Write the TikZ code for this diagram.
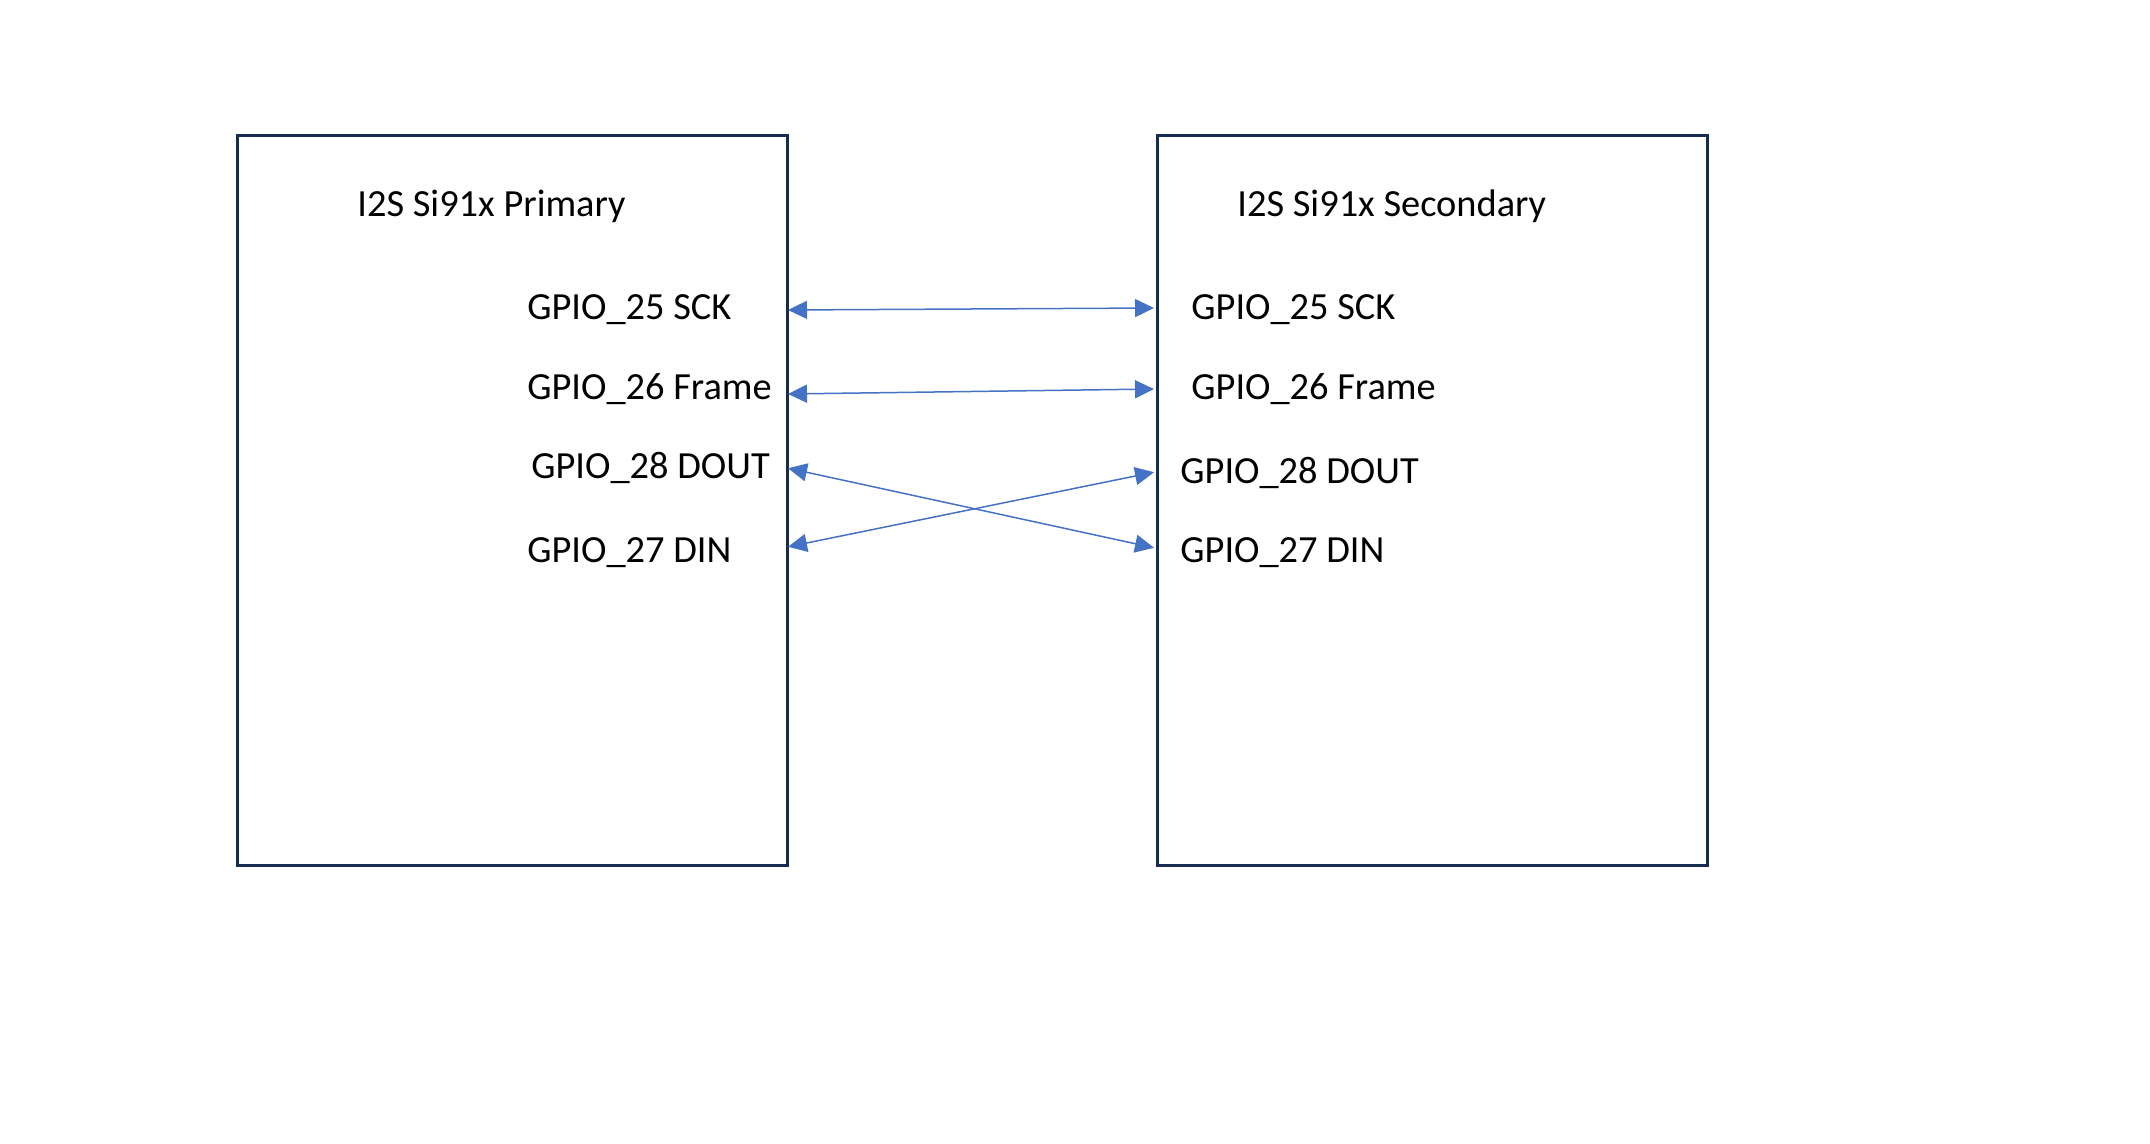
\documentclass[tikz,border=0pt]{standalone}
\usepackage{fontspec}
\setmainfont{Carlito}
\usetikzlibrary{arrows.meta, positioning}
\definecolor{boxline}{RGB}{23,44,81}
\definecolor{wire}{RGB}{68,114,196}

\begin{document}
\begin{tikzpicture}[x=0.5pt, y=0.5pt, yscale=-1,
    chip/.style={draw=boxline, line width=1.5pt, minimum width=275pt, minimum height=365pt, inner sep=0pt, anchor=north west},
    pin/.style={anchor=base west, inner sep=0pt, font=\fontsize{19.2}{23}\selectfont},
    wire/.style={draw=wire, line width=0.75pt, {Triangle[length=9.5pt, width=9pt]}-{Triangle[length=9.5pt, width=9pt]}, shorten <=0.5pt, shorten >=0.5pt}]
    \useasboundingbox (0,0) rectangle (2150,1144);

    \node[chip] (prim) at (236,134) {};
    \node[chip] (sec) at (1156,134) {};

    \node[pin] (primT) at (357,217) {I2S Si91x Primary};
    \node[pin] (p25) at (527,320) {GPIO\_25 SCK};
    \node[pin] (p26) at (527,400) {GPIO\_26 Frame};
    \node[pin] (p28) at (531,478) {GPIO\_28 DOUT};
    \node[pin] (p27) at (527,562) {GPIO\_27 DIN};

    \node[pin] (secT) at (1237,217) {I2S Si91x Secondary};
    \node[pin] (s25) at (1191,320) {GPIO\_25 SCK};
    \node[pin] (s26) at (1191,400) {GPIO\_26 Frame};
    \node[pin] (s28) at (1180,483) {GPIO\_28 DOUT};
    \node[pin] (s27) at (1180,562) {GPIO\_27 DIN};

    % pin ends on the box edges
    \coordinate (a25) at (787,310);
    \coordinate (a26) at (787,394);
    \coordinate (a28) at (787,468);
    \coordinate (a27) at (787,547);
    \coordinate (b25) at (1155,308);
    \coordinate (b26) at (1155,389);
    \coordinate (b28) at (1155,472);
    \coordinate (b27) at (1155,548);

    \draw[wire] (a25) -- (b25);
    \draw[wire] (a26) -- (b26);
    \draw[wire] (a28) -- (b27);
    \draw[wire] (a27) -- (b28);
\end{tikzpicture}
\end{document}
